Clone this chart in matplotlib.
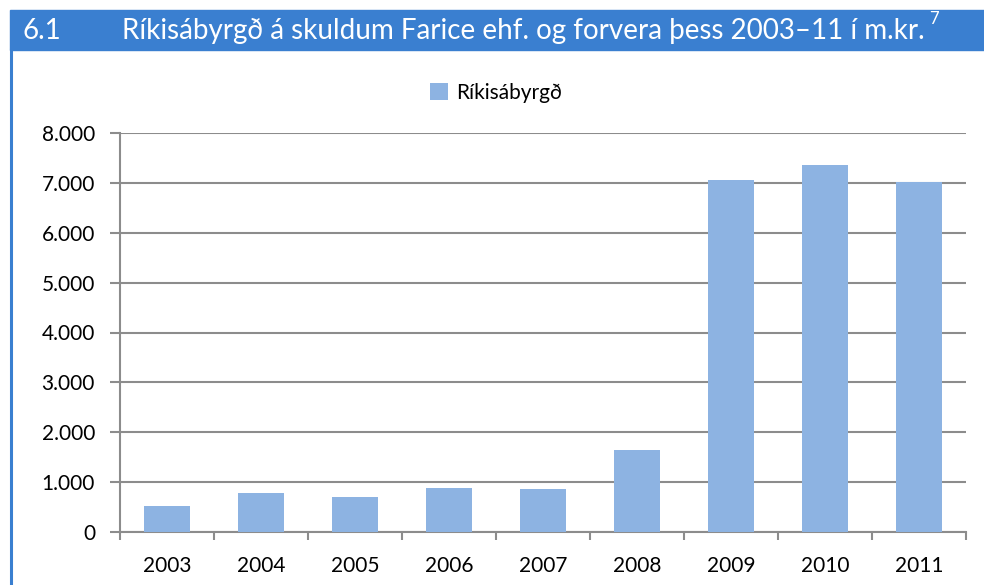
import numpy as np
import matplotlib
matplotlib.use("Agg")
from matplotlib import pyplot as plt
from matplotlib.patches import Rectangle
from matplotlib.lines import Line2D

# gögn
ar = ['2003', '2004', '2005', '2006', '2007', '2008', '2009', '2010', '2011']
rikisabyrgd = [520, 780, 700, 890, 865, 1650, 7050, 7350, 7020]
yticks = [0, 1000, 2000, 3000, 4000, 5000, 6000, 7000, 8000]
ylabels = ['0', '1.000', '2.000', '3.000', '4.000', '5.000', '6.000', '7.000', '8.000']

plt.rcParams['font.family'] = ['Lato', 'DejaVu Sans']

blar = '#3A7FD0'
grar = '#8C8C8C'
stolpi = '#8DB3E2'

fig = plt.figure(figsize=(9.84, 5.85), dpi=100)

# titilborði og rammi
fig.patches.append(Rectangle((10/984, 1-50/585), 1-10/984, 40/585,
                             transform=fig.transFigure, color=blar, zorder=0))
fig.lines.append(Line2D([11/984, 11/984], [0, 1-50/585], transform=fig.transFigure,
                        color=blar, lw=2.2))
fig.text(22/984, 1-31/585, '6.1', color='white', fontsize=20, va='center', ha='left')
titill = fig.text(122/984, 1-31/585,
                  'Ríkisábyrgð á skuldum Farice ehf. og forvera þess 2003–11 í m.kr.',
                  color='white', fontsize=20, va='center', ha='left')
fig.canvas.draw()
bb = titill.get_window_extent()
fig.text((bb.x1 + 4)/984, 1-19/585, '7', color='white', fontsize=12, va='center', ha='left')

ax = fig.add_axes([120/984, 1-532/585, (966-120)/984, (532-133)/585])
x = np.arange(len(ar))
ax.bar(x, rikisabyrgd, width=0.49, color=stolpi, zorder=3, label='Ríkisábyrgð')

ax.set_xlim(-0.5, len(ar) - 0.5)
ax.set_ylim(0, 8000)
ax.set_yticks(yticks)
ax.set_yticklabels(ylabels, fontsize=15)
ax.set_xticks(x)
ax.set_xticklabels(ar, fontsize=15)
ax.set_xticks(np.arange(-0.5, len(ar)), minor=True)
ax.tick_params(axis='x', which='major', length=0, pad=17)
ax.tick_params(axis='x', which='minor', length=6, color=grar, width=1.5)
ax.tick_params(axis='y', length=7, color=grar, width=1.5, pad=11)
ax.yaxis.grid(True, color=grar, lw=1.5, zorder=0)
for s in ['top', 'right']:
    ax.spines[s].set_visible(False)
for s in ['left', 'bottom']:
    ax.spines[s].set_color(grar)
    ax.spines[s].set_linewidth(1.5)

fig.legend(*ax.get_legend_handles_labels(), loc='center',
           bbox_to_anchor=(496/984, 1-93/585), frameon=False, fontsize=15,
           handlelength=0.85, handleheight=0.85, handletextpad=0.4)

fig.savefig('out.png', dpi=100)
